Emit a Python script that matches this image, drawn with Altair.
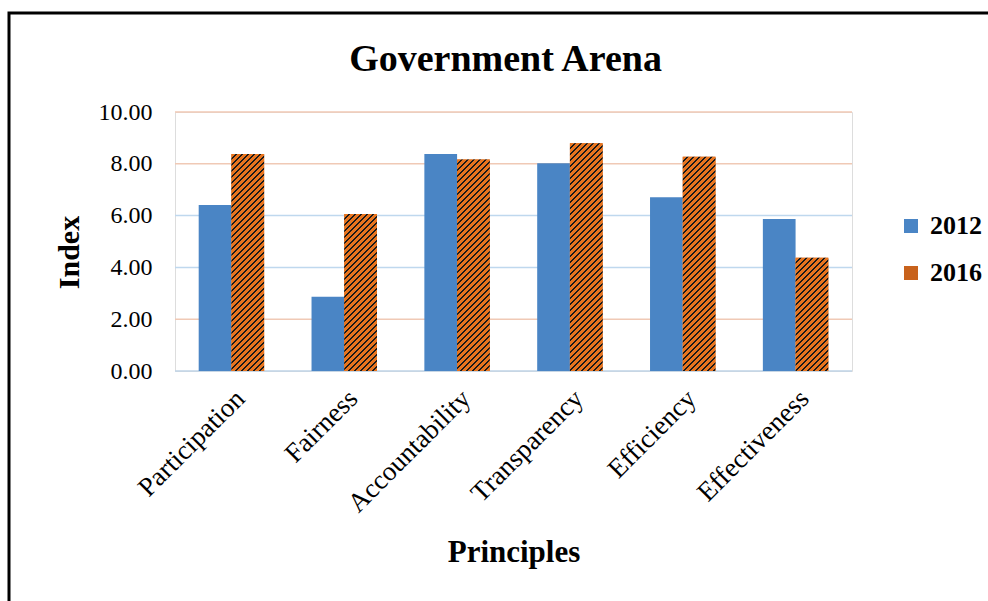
import altair as alt
import pandas as pd

# Index values per governance principle
principles = ["Participation", "Fairness", "Accountability", "Transparency", "Efficiency", "Effectiveness"]
years = ["2012", "2016"]
values_2012 = [6.41, 2.87, 8.38, 8.02, 6.71, 5.87]
values_2016 = [8.38, 6.06, 8.17, 8.79, 8.27, 4.37]
chart_title = "Government Arena"

y_ticks = [0, 2, 4, 6, 8, 10]
grid_colors = ["#BFD3E6", "#F0C9B5", "#BFD8EE", "#BFD8EE", "#F0C9B5", "#F0C9B5"]

BLUE = "#4A85C5"
ORANGE = "#E8741E"
STRIPE = "#1A1A1A"
FONT = "Liberation Serif"

# plot-area geometry (pixels)
PLOT_W, PLOT_H = 677, 259
LEFT, TOP = 175, 112
PAD_INNER, PAD_OUTER = 0.42, 0.21

rows = []
for i, p in enumerate(principles):
    rows.append({"principle": p, "year": "2012", "value": values_2012[i]})
    rows.append({"principle": p, "year": "2016", "value": values_2016[i]})
df = pd.DataFrame(rows)
grid_df = pd.DataFrame({"v": y_ticks, "c": grid_colors})
title_df = pd.DataFrame({"t": [chart_title]})

x_enc = alt.X("principle:N", sort=principles,
              scale=alt.Scale(paddingInner=PAD_INNER, paddingOuter=PAD_OUTER),
              axis=alt.Axis(title="Principles", labelAngle=-45, labelFont=FONT, labelFontSize=27,
                            labelColor="black", labelPadding=14, ticks=False, domain=False,
                            titleFont=FONT, titleFontSize=31, titleFontWeight="bold",
                            titleColor="black", titlePadding=21))
xo_enc = alt.XOffset("year:N", scale=alt.Scale(domain=years))
y_enc = alt.Y("value:Q", scale=alt.Scale(domain=[0, 10]),
              axis=alt.Axis(title="Index", values=y_ticks, format=".2f", grid=False,
                            labelFont=FONT, labelFontSize=24, labelColor="black",
                            labelPadding=23, ticks=False, domain=False,
                            titleFont=FONT, titleFontSize=30, titleFontWeight="bold",
                            titleColor="black", titlePadding=14, titleY=140))

grid = alt.Chart(grid_df).mark_rule(strokeWidth=1.5).encode(
    y=alt.Y("v:Q", scale=alt.Scale(domain=[0, 10])),
    color=alt.Color("c:N", scale=None),
)

bars = alt.Chart(df).mark_bar().encode(
    x=x_enc, xOffset=xo_enc, y=y_enc,
    color=alt.Color("year:N", scale=alt.Scale(domain=years, range=[BLUE, "#C8621C"]),
                    legend=alt.Legend(title=None, orient="none", legendX=723, legendY=101,
                                      symbolType="square", symbolSize=196, symbolStrokeWidth=0,
                                      labelFont=FONT, labelFontSize=26, labelFontWeight="bold",
                                      labelColor="black", labelOffset=6, rowPadding=21)),
)

# diagonal hatch for the 2016 bars, built as a hard-stop linear gradient
step = PLOT_W / (len(principles) - PAD_INNER + 2 * PAD_OUTER)
bar_w = step * (1 - PAD_INNER) / 2
PERIOD, LINE_W = 6.0, 1.6


def hatch(value):
    w, h = bar_w, value * PLOT_H / 10
    L = w + h
    k = L / (w * w + h * h)
    stops = []
    pos = 0.0
    while pos < L:
        a = pos / L
        b = min((pos + PERIOD - LINE_W) / L, 1.0)
        c = min((pos + PERIOD) / L, 1.0)
        stops += [
            {"offset": a, "color": ORANGE},
            {"offset": b, "color": ORANGE},
            {"offset": b, "color": STRIPE},
            {"offset": c, "color": STRIPE},
        ]
        pos += PERIOD
    return {"gradient": "linear", "x1": 0, "y1": 0, "x2": w * k, "y2": h * k, "stops": stops}


hatch_layers = [
    alt.Chart(df).transform_filter(
        (alt.datum.principle == p) & (alt.datum.year == "2016")
    ).mark_bar(fill=hatch(v)).encode(x=x_enc, xOffset=xo_enc, y=y_enc)
    for p, v in zip(principles, values_2016)
]

# heading drawn as a text mark above the plot area
heading = alt.Chart(title_df).mark_text(
    font=FONT, fontSize=38, fontWeight="bold", color="black", align="center", baseline="alphabetic"
).encode(text="t:N", x=alt.value(PLOT_W / 2 - 8), y=alt.value(-41))

# outer border
frame = alt.Chart(title_df).mark_rect(filled=False, stroke="black", strokeWidth=3).encode(
    x=alt.value(9 - LEFT), x2=alt.value(1100), y=alt.value(13 - TOP), y2=alt.value(800)
)

chart = alt.layer(grid, bars, *hatch_layers, heading, frame).properties(
    width=PLOT_W, height=PLOT_H,
    padding={"left": LEFT, "top": TOP, "right": 988 - LEFT - PLOT_W, "bottom": 601 - TOP - PLOT_H},
    autosize=alt.AutoSizeParams(type="none"),
).configure_view(stroke=None).configure(background="white")

chart.save("out.html", embed_options={"renderer": "svg", "actions": False})
